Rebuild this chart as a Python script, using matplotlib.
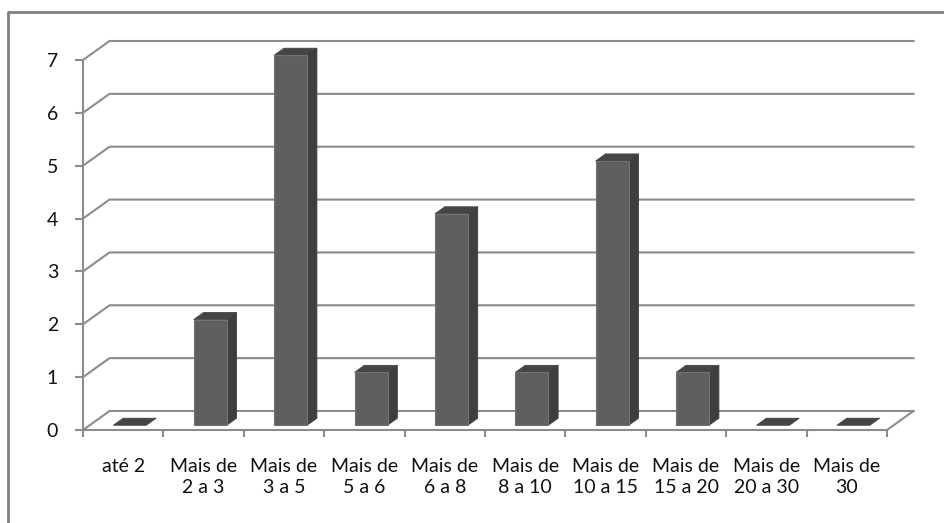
import matplotlib
matplotlib.use("Agg")
import matplotlib.pyplot as plt
from matplotlib.patches import Polygon
from matplotlib.lines import Line2D

categories = ["até 2", "Mais de\n2 a 3", "Mais de\n3 a 5", "Mais de\n5 a 6", "Mais de\n6 a 8",
              "Mais de\n8 a 10", "Mais de\n10 a 15", "Mais de\n15 a 20", "Mais de\n20 a 30", "Mais de\n30"]
values = [0, 2, 7, 1, 4, 1, 5, 1, 0, 0]
y_ticks = [0, 1, 2, 3, 4, 5, 6, 7]

plt.rcParams["font.family"] = ["Lato", "DejaVu Sans"]

W, H = 944, 523
fig = plt.figure(figsize=(W / 100, H / 100), dpi=100)
fig.patch.set_facecolor("white")

# front plane of the chart (pixel placement of the value axis)
x0, x1, ytop, ybot = 83, 887, 60, 430
ax = fig.add_axes([x0 / W, (H - ybot) / H, (x1 - x0) / W, (ybot - ytop) / H])
n = len(categories)
ax.set_xlim(0, n)
ax.set_ylim(0, 7)
ax.patch.set_alpha(0)

# depth of the 3-D box, in data units
dx = 26.5 / ((x1 - x0) / n)
dy = 19.0 / ((ybot - ytop) / 7)

grid_c = "#8c8c8c"
for v in y_ticks:
    ax.add_line(Line2D([0, dx, n + dx], [v, v + dy, v + dy], color=grid_c, lw=1.5,
                       clip_on=False, zorder=1))
# right edge of the floor
ax.add_line(Line2D([n, n + dx], [0, dy], color=grid_c, lw=1.5, clip_on=False, zorder=1))

# bars
front_c, side_c, top_c = "#5f5f5f", "#3e3e3e", "#454545"
bw = 0.41
f0, f1 = 0.25, 0.62
for i, v in enumerate(values):
    xl = i + 0.5 - bw / 2 + f0 * dx
    xr = xl + bw
    yb = f0 * dy
    yt = v + f0 * dy
    ddx, ddy = (f1 - f0) * dx, (f1 - f0) * dy
    top = Polygon([(xl, yt), (xr, yt), (xr + ddx, yt + ddy), (xl + ddx, yt + ddy)],
                  closed=True, facecolor=top_c, edgecolor=top_c, lw=0.6, clip_on=False, zorder=3)
    ax.add_patch(top)
    if v > 0:
        side = Polygon([(xr, yb), (xr + ddx, yb + ddy), (xr + ddx, yt + ddy), (xr, yt)],
                       closed=True, facecolor=side_c, edgecolor=side_c, lw=0.6,
                       clip_on=False, zorder=3)
        front = Polygon([(xl, yb), (xr, yb), (xr, yt), (xl, yt)], closed=True,
                        facecolor=front_c, edgecolor="#727272", lw=0.8,
                        clip_on=False, zorder=4)
        ax.add_patch(side)
        ax.add_patch(front)

# axes styling
for s in ["top", "right"]:
    ax.spines[s].set_visible(False)
for s in ["left", "bottom"]:
    ax.spines[s].set_color(grid_c)
    ax.spines[s].set_linewidth(1.5)
    ax.spines[s].set_zorder(2)

text_c = "#111111"
ax.set_yticks(y_ticks)
ax.set_yticklabels([str(t) for t in y_ticks])
ax.tick_params(axis="y", length=6, width=1.5, color=grid_c, direction="out",
               pad=12, labelsize=14, labelcolor=text_c)

ax.set_xticks(range(n + 1))
ax.set_xticklabels([])
ax.tick_params(axis="x", which="major", length=5, width=1.5, color=grid_c, direction="out")
ax.set_xticks([i + 0.5 for i in range(n)], minor=True)
ax.set_xticklabels(categories, minor=True)
ax.tick_params(axis="x", which="minor", length=0, pad=20, labelsize=14,
               labelcolor=text_c)
for t in ax.get_xticklabels(minor=True):
    t.set_linespacing(1.3)

# chart area border (top and left edges)
fig.add_artist(Line2D([8 / W, 8 / W, 1.0], [0.0, 1 - 12 / H, 1 - 12 / H],
                      transform=fig.transFigure, color="#808080", lw=2))

fig.savefig("out.png", dpi=100)
